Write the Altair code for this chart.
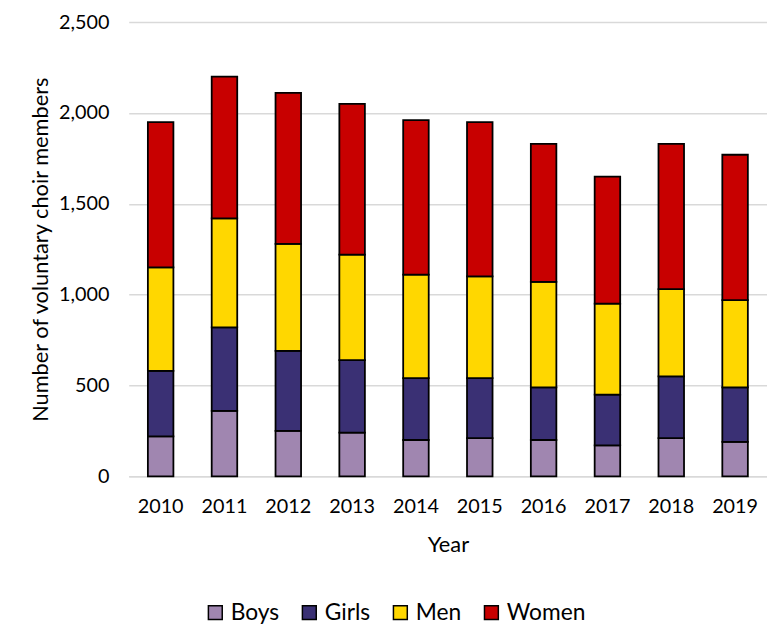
import altair as alt
import pandas as pd

years = ["2010", "2011", "2012", "2013", "2014", "2015", "2016", "2017", "2018", "2019"]
boys = [220, 360, 250, 240, 200, 210, 200, 170, 210, 190]
girls = [360, 460, 440, 400, 340, 330, 290, 280, 340, 300]
men = [570, 600, 590, 580, 570, 560, 580, 500, 480, 480]
women = [800, 780, 830, 830, 850, 850, 760, 700, 800, 800]

groups = ["Boys", "Girls", "Men", "Women"]
colors = ["#a086b0", "#3a3074", "#ffd700", "#c80000"]

rows = []
for gi, (g, vals) in enumerate(zip(groups, [boys, girls, men, women])):
    for y, v in zip(years, vals):
        rows.append({"Year": y, "Group": g, "Value": v, "ord": gi})
df = pd.DataFrame(rows)

FONT = "Lato"

chart = alt.Chart(df).mark_bar(stroke="black", strokeWidth=1.8).encode(
    x=alt.X("Year:N", sort=years,
            scale=alt.Scale(paddingInner=0.6, paddingOuter=0.3),
            axis=alt.Axis(title="Year", labelAngle=0, labelFontSize=20, titleFontSize=22,
                          labelFont=FONT, titleFont=FONT, labelColor="black", titleColor="black",
                          titleFontWeight="normal", ticks=False, domainColor="#d9d9d9",
                          domainWidth=1.5, labelPadding=21, titlePadding=18)),
    y=alt.Y("Value:Q", stack="zero",
            scale=alt.Scale(domain=[0, 2500]),
            axis=alt.Axis(title="Number of voluntary choir members", values=[0, 500, 1000, 1500, 2000, 2500],
                          format=",.0f", labelFontSize=20, titleFontSize=22, labelFont=FONT, titleFont=FONT,
                          labelColor="black", titleColor="black", titleFontWeight="normal",
                          ticks=False, domain=False, gridColor="#d9d9d9", gridWidth=1.5,
                          labelPadding=20, titlePadding=6)),
    color=alt.Color("Group:N", sort=groups,
                    scale=alt.Scale(domain=groups, range=colors),
                    legend=alt.Legend(title=None, orient="none", direction="horizontal",
                                      legendX=76, legendY=585, symbolType="square",
                                      symbolSize=196, symbolStrokeColor="black", symbolStrokeWidth=1.5,
                                      labelFontSize=23, labelFont=FONT, labelColor="black",
                                      columnPadding=19, labelOffset=4)),
    order=alt.Order("ord:Q", sort="ascending"),
).properties(
    width=645, height=459,
    autosize=alt.AutoSizeParams(type="none"),
    padding={"left": 122, "top": 11, "right": 0, "bottom": 150},
).configure_view(stroke=None)

chart.save("out.html", embed_options={"renderer": "svg", "actions": False})
